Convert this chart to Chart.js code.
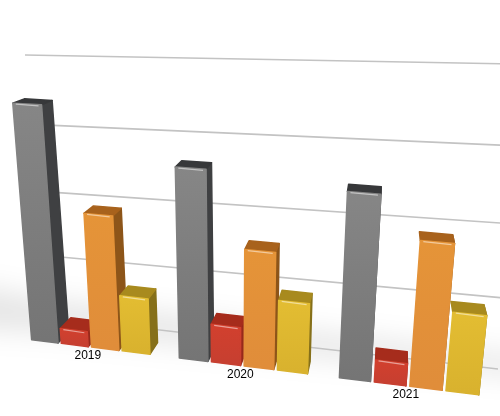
<!DOCTYPE html>
<html>
<head>
<meta charset="utf-8">
<style>
  html, body { margin: 0; padding: 0; background: #fff; }
  #wrap { width: 500px; height: 416px; position: relative; }
</style>
<script src="https://cdn.jsdelivr.net/npm/chart.js@4"></script>
</head>
<body>
<div id="wrap"><canvas id="chart" width="500" height="416"></canvas></div>
<script>
// Chart values
const years = ['2019', '2020', '2021'];
const seriesA = [34, 27, 25.5];
const seriesB = [2.3, 5.6, 3.2];
const seriesC = [19.7, 16.7, 20];
const seriesD = [8.3, 10.1, 11];
const axisMax = 40;
const axisStep = 10;

// Face colours per series: front top, front bottom, side, top
const FACES = [
    { hi: '#868686', lo: '#757575', side: '#3f4042', top: '#37383a' },
    { hi: '#d2402e', lo: '#c73f30', side: '#97291b', top: '#a62c1c' },
    { hi: '#e59438', lo: '#e08d3a', side: '#8d5519', top: '#a8621c' },
    { hi: '#e3bd32', lo: '#d9b22e', side: '#86701a', top: '#a88a1e' }
];

// Perspective planes, corners: bottom-left, bottom-right, top-right, top-left
const FRONT_PLANE = makePlane([[18, 338], [496, 397], [530, 81], [-6, 56]]);
const BACK_PLANE = makePlane([[30, 327], [493, 384], [526, 76], [6, 53]]);
const WALL_PLANE = makePlane([[47, 317], [498, 369], [515, 64], [25, 55]]);

// Unit square to quad homography
function makePlane(q) {
    const [p0, p1, p2, p3] = q;
    const dx1 = p1[0] - p2[0], dx2 = p3[0] - p2[0], sx = p0[0] - p1[0] + p2[0] - p3[0];
    const dy1 = p1[1] - p2[1], dy2 = p3[1] - p2[1], sy = p0[1] - p1[1] + p2[1] - p3[1];
    const den = dx1 * dy2 - dx2 * dy1;
    const g = (sx * dy2 - dx2 * sy) / den;
    const h = (dx1 * sy - sx * dy1) / den;
    const a = p1[0] - p0[0] + g * p1[0], b = p3[0] - p0[0] + h * p3[0];
    const d = p1[1] - p0[1] + g * p1[1], e = p3[1] - p0[1] + h * p3[1];
    return (s, t) => {
        const w = g * s + h * t + 1;
        return [(a * s + b * t + p0[0]) / w, (d * s + e * t + p0[1]) / w];
    };
}

function fillQuad(ctx, pts, color) {
    ctx.beginPath();
    pts.forEach((p, i) => i ? ctx.lineTo(p[0], p[1]) : ctx.moveTo(p[0], p[1]));
    ctx.closePath();
    ctx.fillStyle = color;
    ctx.strokeStyle = color;
    ctx.lineWidth = 1.5;
    ctx.lineJoin = 'round';
    ctx.fill();
    ctx.stroke();
}

// Soft floor shadow and the wall gridlines
const wallPlugin = {
    id: 'wall',
    beforeDatasetsDraw(chart) {
        const { ctx, scales } = chart;
        ctx.save();
        ctx.filter = 'blur(14px)';
        ctx.fillStyle = 'rgba(0,0,0,0.10)';
        ctx.beginPath();
        ctx.moveTo(-30, 285);
        ctx.lineTo(50, 300);
        ctx.lineTo(530, 358);
        ctx.lineTo(530, 376);
        ctx.lineTo(50, 332);
        ctx.lineTo(-30, 328);
        ctx.closePath();
        ctx.fill();
        ctx.restore();

        const area = chart.chartArea;
        ctx.save();
        ctx.strokeStyle = '#c3c3c3';
        ctx.lineWidth = 1.6;
        scales.y.ticks.forEach(tick => {
            const t = (area.bottom - scales.y.getPixelForValue(tick.value)) / area.height;
            const a = WALL_PLANE(0, t), b = WALL_PLANE(1, t);
            ctx.beginPath();
            ctx.moveTo(a[0], a[1]);
            ctx.lineTo(b[0], b[1]);
            ctx.stroke();
        });
        ctx.restore();
    }
};

// Draws each Chart.js bar element as a box in perspective
const boxPlugin = {
    id: 'boxes',
    afterDatasetsDraw(chart) {
        const { ctx } = chart;
        const area = chart.chartArea;
        const bars = [];
        chart.data.datasets.forEach((ds, di) => {
            chart.getDatasetMeta(di).data.forEach(el => {
                bars.push({ el, faces: FACES[di] });
            });
        });
        bars.sort((a, b) => a.el.x - b.el.x);

        ctx.save();
        ctx.filter = 'blur(0.5px)';
        bars.forEach(({ el, faces }) => {
            const s0 = (el.x - el.width / 2 - area.left) / area.width;
            const s1 = (el.x + el.width / 2 - area.left) / area.width;
            const t1 = (area.bottom - el.y) / area.height;
            const fbl = FRONT_PLANE(s0, 0), fbr = FRONT_PLANE(s1, 0);
            const ftl = FRONT_PLANE(s0, t1), ftr = FRONT_PLANE(s1, t1);
            const bbr = BACK_PLANE(s1, 0), btl = BACK_PLANE(s0, t1), btr = BACK_PLANE(s1, t1);

            fillQuad(ctx, [ftr, btr, bbr, fbr], faces.side);
            fillQuad(ctx, [ftl, btl, btr, ftr], faces.top);
            const grad = ctx.createLinearGradient(0, ftl[1], 0, fbl[1]);
            grad.addColorStop(0, faces.hi);
            grad.addColorStop(1, faces.lo);
            fillQuad(ctx, [fbl, fbr, ftr, ftl], grad);

            // bevel highlight along the front top edge
            ctx.beginPath();
            ctx.moveTo(ftl[0] + 3, ftl[1] + 1);
            ctx.lineTo(ftr[0] - 3, ftr[1] + 1);
            ctx.strokeStyle = 'rgba(255,255,255,0.5)';
            ctx.lineWidth = 1.2;
            ctx.stroke();
        });
        ctx.filter = 'none';

        // category labels under each group
        ctx.fillStyle = '#000';
        ctx.font = '12px "Liberation Sans", Arial, sans-serif';
        ctx.textAlign = 'center';
        ctx.textBaseline = 'middle';
        const xScale = chart.scales.x;
        years.forEach((year, i) => {
            const s = (xScale.getPixelForValue(i) - area.left) / area.width;
            const p = FRONT_PLANE(s, 0);
            ctx.fillText(xScale.getLabelForValue(i), p[0] - 2, p[1] + 9);
        });
        ctx.restore();
    }
};

const seriesList = [seriesA, seriesB, seriesC, seriesD];

new Chart(document.getElementById('chart').getContext('2d'), {
    type: 'bar',
    data: {
        labels: years,
        datasets: seriesList.map(values => ({
            data: values,
            backgroundColor: 'rgba(0,0,0,0)',
            categoryPercentage: 0.83,
            barPercentage: 0.89
        }))
    },
    options: {
        responsive: false,
        animation: false,
        layout: { padding: 0 },
        plugins: { legend: { display: false }, tooltip: { enabled: false } },
        scales: {
            x: { display: false },
            y: { display: false, min: 0, max: axisMax, ticks: { stepSize: axisStep } }
        }
    },
    plugins: [wallPlugin, boxPlugin]
});
</script>
</body>
</html>
